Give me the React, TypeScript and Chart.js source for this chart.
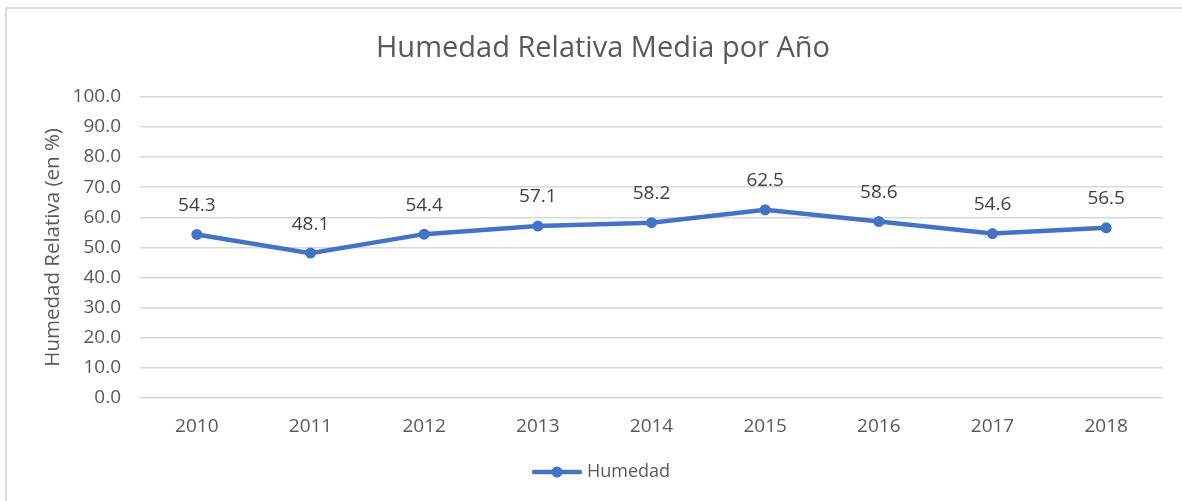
import React, { useEffect, useRef } from "react";
import { Chart, registerables } from "chart.js";

Chart.register(...registerables);

const years = ["2010", "2011", "2012", "2013", "2014", "2015", "2016", "2017", "2018"];
const humedad = [54.3, 48.1, 54.4, 57.1, 58.2, 62.5, 58.6, 54.6, 56.5];
const chartTitle = "Humedad Relativa Media por Año";
const yAxisTitle = "Humedad Relativa (en %)";
const seriesName = "Humedad";

const LINE_COLOR = "#4472C4";
const TEXT_COLOR = "#595959";
const FONT = "'Open Sans', 'Noto Sans', sans-serif";

function makeLegendIcon(): HTMLCanvasElement {
  const c = document.createElement("canvas");
  c.width = 50;
  c.height = 12;
  const ctx = c.getContext("2d")!;
  ctx.strokeStyle = LINE_COLOR;
  ctx.lineWidth = 4.5;
  ctx.lineCap = "round";
  ctx.beginPath();
  ctx.moveTo(2, 6);
  ctx.lineTo(48, 6);
  ctx.stroke();
  ctx.fillStyle = LINE_COLOR;
  ctx.beginPath();
  ctx.arc(25, 6, 5.5, 0, Math.PI * 2);
  ctx.fill();
  return c;
}

const dataLabelPlugin = {
  id: "dataLabels",
  afterDatasetsDraw(chart: any) {
    const { ctx } = chart;
    chart.data.datasets.forEach((ds: any, di: number) => {
      const meta = chart.getDatasetMeta(di);
      meta.data.forEach((pt: any, i: number) => {
        const v = ds.data[i] as number;
        ctx.save();
        ctx.font = `19px ${FONT}`;
        ctx.fillStyle = "#404040";
        ctx.textAlign = "center";
        ctx.textBaseline = "middle";
        ctx.fillText(v.toFixed(1), pt.x, pt.y - 29);
        ctx.restore();
      });
    });
  },
};

export default function App() {
  const ref = useRef<HTMLCanvasElement | null>(null);

  useEffect(() => {
    if (!ref.current) return;
    const icon = makeLegendIcon();
    const chart = new Chart(ref.current, {
      type: "line",
      data: {
        labels: years,
        datasets: [
          {
            label: seriesName,
            data: humedad,
            borderColor: LINE_COLOR,
            backgroundColor: LINE_COLOR,
            borderWidth: 4.5,
            pointRadius: 5.5,
            pointBackgroundColor: LINE_COLOR,
            pointBorderColor: LINE_COLOR,
            pointBorderWidth: 0,
            tension: 0,
          },
        ],
      },
      options: {
        animation: false,
        responsive: false,
        maintainAspectRatio: false,
        layout: { padding: { left: 43, right: 19, top: 0, bottom: 10 } },
        plugins: {
          title: {
            display: true,
            text: chartTitle,
            color: TEXT_COLOR,
            font: { family: FONT, size: 29, weight: "normal", lineHeight: 1.2 },
            padding: { top: 31, bottom: 31 },
          },
          legend: {
            display: true,
            position: "bottom",
            labels: {
              usePointStyle: true,
              pointStyleWidth: 42,
              padding: 15,
              color: TEXT_COLOR,
              font: { family: FONT, size: 18 },
              generateLabels: (c: any) =>
                c.data.datasets.map((ds: any, i: number) => ({
                  text: ds.label,
                  fillStyle: LINE_COLOR,
                  strokeStyle: LINE_COLOR,
                  lineWidth: 0,
                  pointStyle: icon,
                  hidden: false,
                  datasetIndex: i,
                  fontColor: TEXT_COLOR,
                })),
            },
          },
          tooltip: { enabled: false },
        },
        scales: {
          x: {
            offset: true,
            grid: { display: false, offset: true },
            border: { display: false },
            ticks: {
              color: TEXT_COLOR,
              font: { family: FONT, size: 19 },
              padding: 9,
            },
            afterFit: (s: any) => {
              s.height = 50;
            },
          },
          y: {
            min: 0,
            max: 100,
            border: { display: false },
            grid: { color: "#D9D9D9", lineWidth: 1.5, drawTicks: false },
            ticks: {
              stepSize: 10,
              color: TEXT_COLOR,
              font: { family: FONT, size: 19 },
              padding: 19,
              callback: (v: any) => Number(v).toFixed(1),
            },
            title: {
              display: true,
              text: yAxisTitle,
              color: TEXT_COLOR,
              font: { family: FONT, size: 20.5, lineHeight: 1 },
              padding: { top: 0, bottom: 0 },
            },
            afterFit: (s: any) => {
              s.width = 97;
            },
          },
        },
      },
      plugins: [dataLabelPlugin],
    });
    return () => chart.destroy();
  }, []);

  return (
    <div
      style={{
        position: "fixed",
        left: 0,
        top: 0,
        width: 1182,
        height: 501,
        background: "#ffffff",
        overflow: "hidden",
      }}
    >
      <div
        style={{
          position: "absolute",
          left: 5,
          top: 7,
          width: 1200,
          height: 600,
          border: "2px solid #DCDCDC",
          boxSizing: "border-box",
        }}
      />
      <canvas
        ref={ref}
        width={1182}
        height={501}
        style={{ position: "absolute", left: 0, top: 0, width: 1182, height: 501 }}
      />
    </div>
  );
}
